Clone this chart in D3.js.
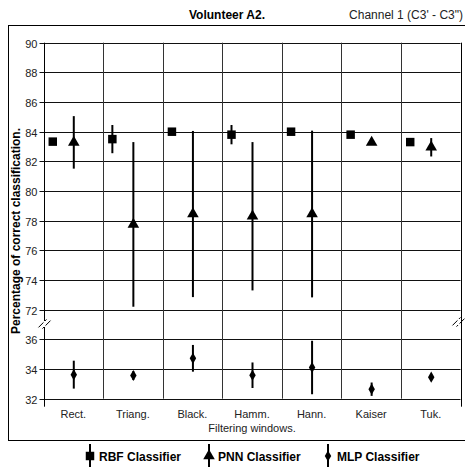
<!DOCTYPE html>
<html><head><meta charset="utf-8">
<script src="https://cdn.jsdelivr.net/npm/d3@7"></script>
<style>body{margin:0;background:#fff}svg{display:block}text{font-family:"Liberation Sans",Arial,sans-serif}</style>
</head><body><svg id="c" width="465" height="470"></svg>
<script>
const categories = ["Rect.","Triang.","Black.","Hamm.","Hann.","Kaiser","Tuk."];
const rbfMean = [83.33, 83.5, 84.0, 83.8, 84.0, 83.8, 83.3];
const rbfErr  = [0, 0.95, 0, 0.65, 0, 0, 0];
const pnnMean = [83.28, 77.75, 78.45, 78.3, 78.45, 83.28, 82.95];
const pnnErr  = [1.77, 5.55, 5.6, 5.0, 5.62, 0, 0.62];
const mlpMean = [33.62, 33.56, 34.72, 33.58, 34.1, 32.64, 33.45];
const mlpErr  = [0.94, 0.3, 0.9, 0.86, 1.8, 0.45, 0];
const yTicks = [90,88,86,84,82,80,78,76,74,72,36,34,32];

const svg = d3.select("#c");
const L = 43.5, R = 460.5, T = 42.7, B = 398.7;
const x = d3.scaleBand().domain(categories).range([L, R]).padding(0);
const y = d3.scaleLinear().domain([32,36,72,90]).range([B, 339.3, 309.7, T]);

// outer frame
svg.append("rect").attr("x",8.5).attr("y",25.5).attr("width",470).attr("height",415)
  .attr("fill","none").attr("stroke","#000").attr("stroke-width",1);

// horizontal grid + ticks
const g = svg.append("g");
yTicks.forEach(v=>{
  const yy = Math.round(y(v))+0.5;
  g.append("line").attr("x1",L-4).attr("x2",R).attr("y1",yy).attr("y2",yy).attr("stroke","#111");
  g.append("text").attr("x",L-6).attr("y",yy+4).attr("text-anchor","end")
    .attr("font-size",11).attr("fill","#222").text(v);
});
// vertical grid
const bounds = categories.map(c=>x(c)).concat([R]);
bounds.forEach((bx,i)=>{
  const xx = Math.round(bx)+0.5;
  const isEdge = (i===0 || i===bounds.length-1);
  g.append("line").attr("x1",xx).attr("x2",xx).attr("y1",T).attr("y2",isEdge?B+8:B)
    .attr("stroke",isEdge?"#000":"#333");
});
// break marks
function brk(cx, cy){
  [-2,2].forEach(d=>{
    svg.append("line").attr("x1",cx-4+d).attr("y1",cy+4+d*0.3).attr("x2",cx+4+d).attr("y2",cy-4+d*0.3)
      .attr("stroke","#000").attr("stroke-width",1);
  });
  svg.append("rect").attr("x",cx-1).attr("y",cy-3).attr("width",2).attr("height",6).attr("fill","#fff");
}
brk(L+1, 324);
brk(R-2, 322);

// x labels
categories.forEach(c=>{
  svg.append("text").attr("x",x(c)+x.bandwidth()/2).attr("y",418).attr("text-anchor","middle")
    .attr("font-size",11).attr("fill","#222").text(c);
});
svg.append("text").attr("x",252).attr("y",432).attr("text-anchor","middle")
  .attr("font-size",11).attr("fill","#222").text("Filtering windows.");

// title
svg.append("text").attr("x",227).attr("y",19).attr("text-anchor","middle")
  .attr("font-size",12).attr("font-weight","bold").text("Volunteer A2.");
svg.append("text").attr("x",463).attr("y",19).attr("text-anchor","end")
  .attr("font-size",12).attr("fill","#222").text("Channel 1 (C3' - C3\")");

// y title
svg.append("text").attr("transform","translate(20,231) rotate(-90)").attr("text-anchor","middle")
  .attr("font-family","'Liberation Serif','Times New Roman',serif").attr("font-weight","bold")
  .attr("font-size",12).text("Percentage of correct classification.");

// markers
const sq = d3.symbol().type(d3.symbolSquare).size(72);
const tri = d3.symbol().type(d3.symbolTriangle).size(58);
const dia = d3.symbol().type(d3.symbolDiamond).size(36);
function series(means, errs, dx, sym){
  const gg = svg.append("g");
  means.forEach((m,i)=>{
    const cx = x(categories[i]) + x.bandwidth()/2 + dx;
    if(errs[i]>0){
      gg.append("line").attr("x1",cx).attr("x2",cx).attr("y1",y(m+errs[i])).attr("y2",y(m-errs[i]))
        .attr("stroke","#000").attr("stroke-width",2);
    }
    gg.append("path").attr("d",sym).attr("transform",`translate(${cx},${y(m)})`).attr("fill","#000");
  });
}
series(rbfMean, rbfErr, -20.5, sq);
series(pnnMean, pnnErr, 0.5, tri);
series(mlpMean, mlpErr, 0.5, dia);

// legend
const leg = [["RBF Classifier",sq,90],["PNN Classifier",tri,209],["MLP Classifier",dia,328]];
leg.forEach(([t,s,lx])=>{
  svg.append("line").attr("x1",lx).attr("x2",lx).attr("y1",444).attr("y2",467).attr("stroke","#000").attr("stroke-width",2);
  svg.append("path").attr("d",s).attr("transform",`translate(${lx},${456})`).attr("fill","#000");
  svg.append("text").attr("x",lx+9).attr("y",461).attr("font-size",12).attr("font-weight","bold").text(t);
});
</script></body></html>
